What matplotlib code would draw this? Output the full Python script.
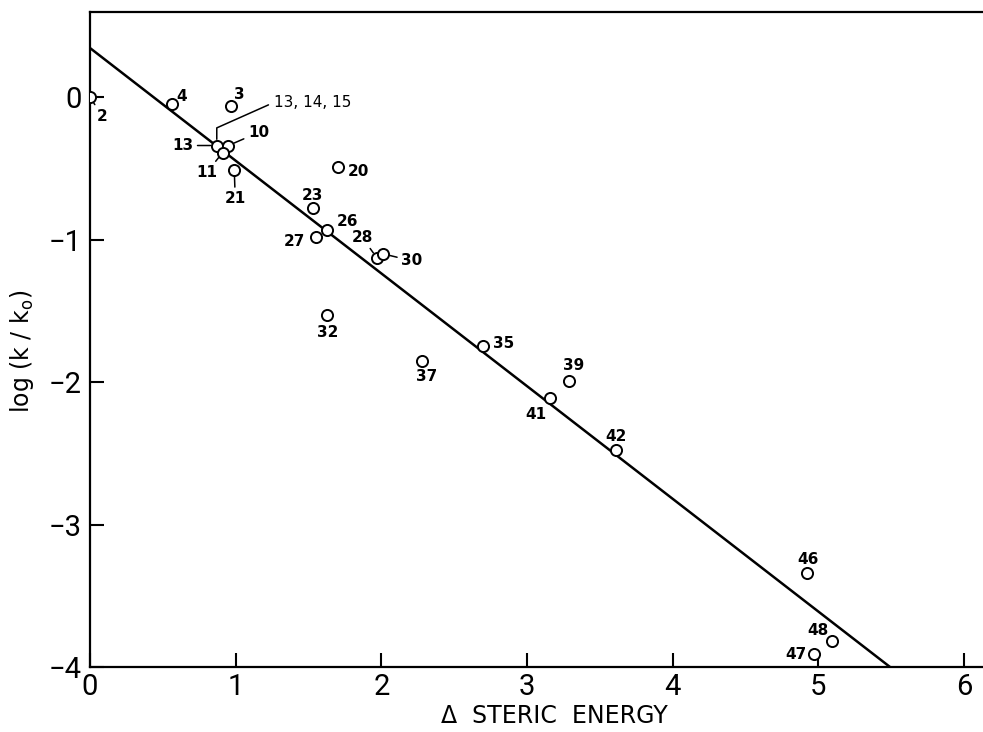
import matplotlib
matplotlib.use("Agg")
import matplotlib.pyplot as plt

# compound numbers, steric energy difference, log(k/k0)
labels = ["2", "4", "3", "13", "10", "11", "21", "20", "23", "26", "27",
          "28", "30", "32", "35", "37", "39", "41", "42", "46", "48", "47"]
steric = [0.00, 0.56, 0.97, 0.87, 0.95, 0.91, 0.99, 1.70, 1.53, 1.63, 1.55,
          1.97, 2.01, 1.63, 2.70, 2.28, 3.29, 3.16, 3.61, 4.92, 5.09, 4.97]
logk = [0.00, -0.05, -0.06, -0.34, -0.34, -0.39, -0.51, -0.49, -0.78, -0.93, -0.98,
        -1.13, -1.10, -1.53, -1.75, -1.85, -1.99, -2.11, -2.48, -3.34, -3.82, -3.91]

# fitted line
fit_intercept = 0.344
fit_slope = -0.791

# label offsets in pixels (dx, dy) and whether a leader line is drawn
label_pos = {
    "2": (12, -19, True), "4": (10, 8, False), "3": (8, 11, False),
    "13": (-34, 0, True), "10": (30, 13, True), "11": (-16, -20, True),
    "21": (1, -29, True), "20": (21, -5, False), "23": (0, 13, False),
    "26": (20, 8, False), "27": (-21, -5, False), "28": (-15, 21, True),
    "30": (29, -7, True), "32": (0, -17, False), "35": (20, 3, False),
    "37": (4, -16, False), "39": (4, 15, False), "41": (-14, -17, False),
    "42": (0, 14, False), "46": (1, 13, False), "48": (-14, 11, False),
    "47": (-18, 0, False),
}

fig = plt.figure(figsize=(9.83, 7.32), dpi=100)
ax = fig.add_axes([0.0916, 0.0888, 0.9084, 0.8948])

x_end = (-4 - fit_intercept) / fit_slope
ax.plot([0, x_end], [fit_intercept, fit_intercept + fit_slope * x_end],
        color="black", lw=1.8, zorder=2)
ax.plot(steric, logk, "o", mfc="white", mec="black", ms=8, mew=1.4, zorder=3)

for name, x, y in zip(labels, steric, logk):
    dx, dy, leader = label_pos[name]
    arrow = dict(arrowstyle="-", lw=1.1, color="black", shrinkA=1, shrinkB=4.5) if leader else None
    ax.annotate(name, (x, y), xytext=(dx, dy), textcoords="offset pixels",
                ha="center", va="center", fontsize=11, fontweight="semibold",
                arrowprops=arrow)

# bracket label for the overlapping points 13, 14, 15
ax.annotate("13, 14, 15", (steric[3], logk[3]), xytext=(57, 43), textcoords="offset pixels",
            ha="left", va="center", fontsize=11,
            arrowprops=dict(arrowstyle="-", lw=1.1, color="black", shrinkA=2, shrinkB=4.5,
                            relpos=(0, 0.5),
                            connectionstyle="angle,angleA=-156,angleB=90,rad=0"))

ax.set_xlim(0, 6.13)
ax.set_ylim(-4, 0.597)
ax.set_xticks(range(0, 7))
ax.set_yticks([0, -1, -2, -3, -4])
ax.set_xticklabels(["0", "1", "2", "3", "4", "5", "6"])
ax.set_yticklabels(["0", "\u22121", "\u22122", "\u22123", "\u22124"])
ax.tick_params(direction="in", length=10, width=1.5, labelsize=21, pad=4)
ax.tick_params(axis="y", pad=6)
for lab in ax.get_xticklabels() + ax.get_yticklabels():
    lab.set_family(["Roboto", "DejaVu Sans"])

for side in ["left", "bottom", "top"]:
    ax.spines[side].set_linewidth(1.6)
ax.spines["right"].set_visible(False)

ax.set_xlabel("\u0394  STERIC  ENERGY", fontsize=17)
ax.xaxis.set_label_coords(0.52, -0.056)
ax.set_ylabel(r"log (k / k$_\mathregular{o}$)", fontsize=17)
ax.yaxis.set_label_coords(-0.061, 0.482)

fig.savefig("out.png", dpi=100)
